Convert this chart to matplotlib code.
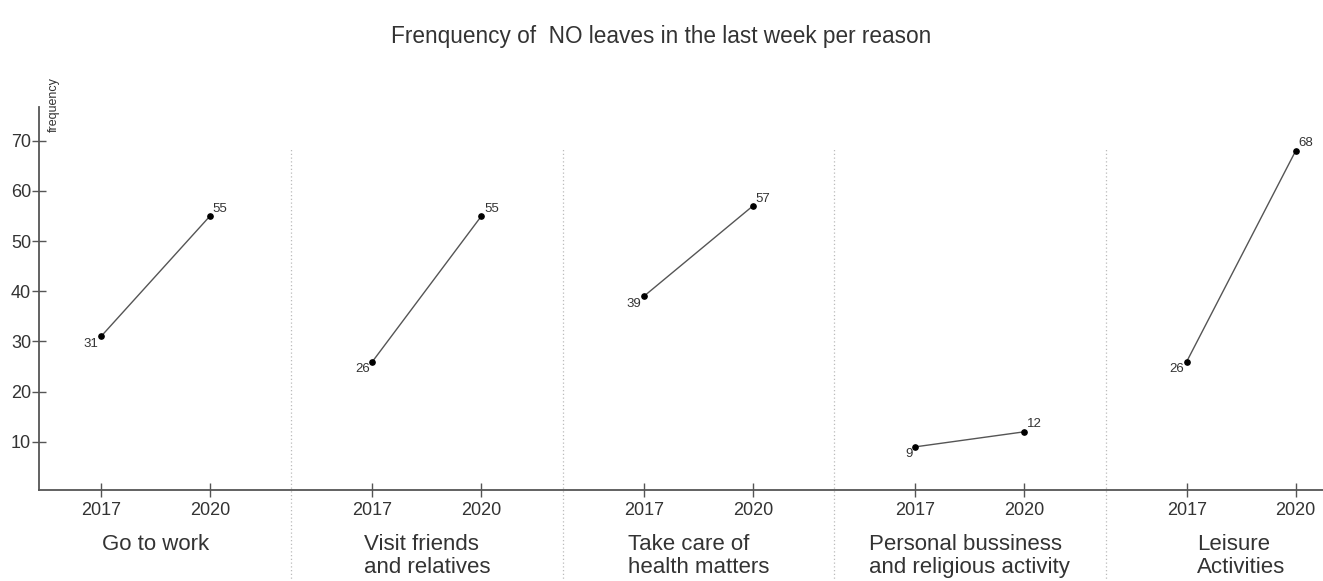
import matplotlib
matplotlib.use('Agg')
import matplotlib.pyplot as plt

plt.rcParams['font.family'] = ['Liberation Sans', 'DejaVu Sans']

# data
reasons = ['Go to work', 'Visit friends\nand relatives', 'Take care of\nhealth matters',
           'Personal bussiness\nand religious activity', 'Leisure\nActivities']
years = ['2017', '2020']
values_2017 = [31, 26, 39, 9, 26]
values_2020 = [55, 55, 57, 12, 68]
y_ticks = [10, 20, 30, 40, 50, 60, 70]

TEXT = '#333333'
AXIS = '#555555'
GROUP_STEP = 2.49   # distance between groups, in units of the 2017-2020 gap

fig = plt.figure(figsize=(13.23, 5.81), dpi=100)
ax = fig.add_axes([0.0295, 0.1566, 0.9705, 0.6592])

for i, reason in enumerate(reasons):
    x0 = i * GROUP_STEP
    xs = [x0, x0 + 1]
    ys = [values_2017[i], values_2020[i]]
    ax.plot(xs, ys, color='#555555', lw=1.0, zorder=2)
    ax.plot(xs, ys, 'o', color='black', ms=3.8, zorder=3)
    ax.annotate(str(values_2017[i]), (xs[0], ys[0]), xytext=(-2, -1),
                textcoords='offset points', ha='right', va='top',
                fontsize=9.5, color=TEXT)
    ax.annotate(str(values_2020[i]), (xs[1], ys[1]), xytext=(2, 1),
                textcoords='offset points', ha='left', va='bottom',
                fontsize=9.5, color=TEXT)
    # category label under the year ticks
    ax.text(x0 + 0.5, -0.116, reason, transform=ax.get_xaxis_transform(),
            ha='center', va='top', multialignment='left', fontsize=16,
            color=TEXT, linespacing=1.12)
    # dotted separator between groups
    if i < len(reasons) - 1:
        sep = x0 + (GROUP_STEP + 1) / 2
        ax.plot([sep, sep], [-0.25, 0.896], transform=ax.get_xaxis_transform(),
                ls=(0, (1, 2)), color='#bbbbbb', lw=0.9, clip_on=False, zorder=1)

tick_pos = []
tick_lab = []
for i in range(len(reasons)):
    for j, yr in enumerate(years):
        tick_pos.append(i * GROUP_STEP + j)
        tick_lab.append(yr)
ax.set_xticks(tick_pos)
ax.set_xticklabels(tick_lab)
ax.set_yticks(y_ticks)

ax.set_xlim(-0.569, 11.21)
ax.set_ylim(0.4, 76.7)

for side in ['top', 'right']:
    ax.spines[side].set_visible(False)
for side in ['left', 'bottom']:
    ax.spines[side].set_color(AXIS)
    ax.spines[side].set_linewidth(1.3)

ax.tick_params(axis='both', direction='inout', length=9.5, width=1.0,
               color=AXIS, labelsize=13, labelcolor=TEXT)
ax.tick_params(axis='x', pad=4)
ax.tick_params(axis='y', pad=1)

ax.text(0.007, 1.078, 'frequency', transform=ax.transAxes, rotation=90,
        ha='left', va='top', fontsize=9, color=TEXT)

fig.suptitle('Frenquency of  NO leaves in the last week per reason',
             y=0.938, va='center', fontsize=16.3, color=TEXT)

fig.savefig('out.png', dpi=100)
